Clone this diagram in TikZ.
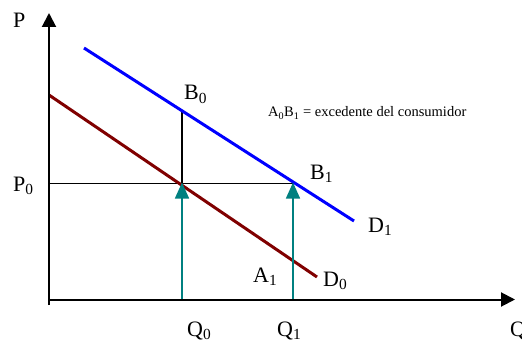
\documentclass[tikz,border=0pt]{standalone}
\usepackage{fontspec}
\setmainfont{Liberation Serif}
\usetikzlibrary{arrows.meta}

\definecolor{dred}{RGB}{128,0,0}
\definecolor{dteal}{RGB}{0,128,128}

\tikzset{
    axis/.style={line width=2pt, -{Triangle[length=14pt, width=14pt]}},
    demand/.style={line width=3pt},
    guide/.style={line width=1.5pt},
    qarrow/.style={dteal, line width=1.5pt, -{Triangle[length=16pt, width=14pt]}},
    lbl/.style={font=\fontsize{22}{24}\selectfont, inner sep=0pt, anchor=base west},
    note/.style={font=\fontsize{14.5}{16}\selectfont, inner sep=0pt, anchor=base west}
}

\begin{document}
\begin{tikzpicture}[x=1pt, y=-1pt]
    \useasboundingbox (0,0) rectangle (522,342);

    % Points
    \coordinate (ybot) at (49,305);
    \coordinate (ytop) at (49,13);
    \coordinate (xbeg) at (49,299.5);
    \coordinate (xend) at (515,299.5);
    \coordinate (d1a) at (84,48);
    \coordinate (d1b) at (354,221);
    \coordinate (d0a) at (49,95);
    \coordinate (d0b) at (317,277);
    \coordinate (p0) at (49,183.5);
    \coordinate (e0) at (182,183.5);
    \coordinate (e1) at (293,183.5);
    \coordinate (b0) at (182,111);
    \coordinate (q0) at (182,299.5);
    \coordinate (q1) at (293,299.5);

    % Labels
    \node[lbl] (P) at (13,28) {P};
    \node[lbl] (Q) at (510,336) {Q};
    \node[lbl] (P0) at (13,191) {P\textsubscript{0}};
    \node[lbl] (Q0) at (187,336) {Q\textsubscript{0}};
    \node[lbl] (Q1) at (277,336) {Q\textsubscript{1}};
    \node[lbl] (B0) at (184,100) {B\textsubscript{0}};
    \node[lbl] (B1) at (310,179) {B\textsubscript{1}};
    \node[lbl] (A1) at (253,282) {A\textsubscript{1}};
    \node[lbl] (D0) at (323,286) {D\textsubscript{0}};
    \node[lbl] (D1) at (368,232) {D\textsubscript{1}};
    \node[note] (exc) at (268,117) {A\textsubscript{0}B\textsubscript{1} = excedente del consumidor};

    % Lines
    \draw[guide] (p0) -- (e1);
    \draw[guide] (b0) -- (e0);
    \draw[demand, blue] (d1a) -- (d1b);
    \draw[demand, dred] (d0a) -- (d0b);
    \draw[qarrow] (q0) -- ([yshift=1pt]e0);
    \draw[qarrow] (q1) -- ([yshift=1pt]e1);
    \draw[axis] (ybot) -- (ytop);
    \draw[axis] (xbeg) -- (xend);
\end{tikzpicture}
\end{document}
